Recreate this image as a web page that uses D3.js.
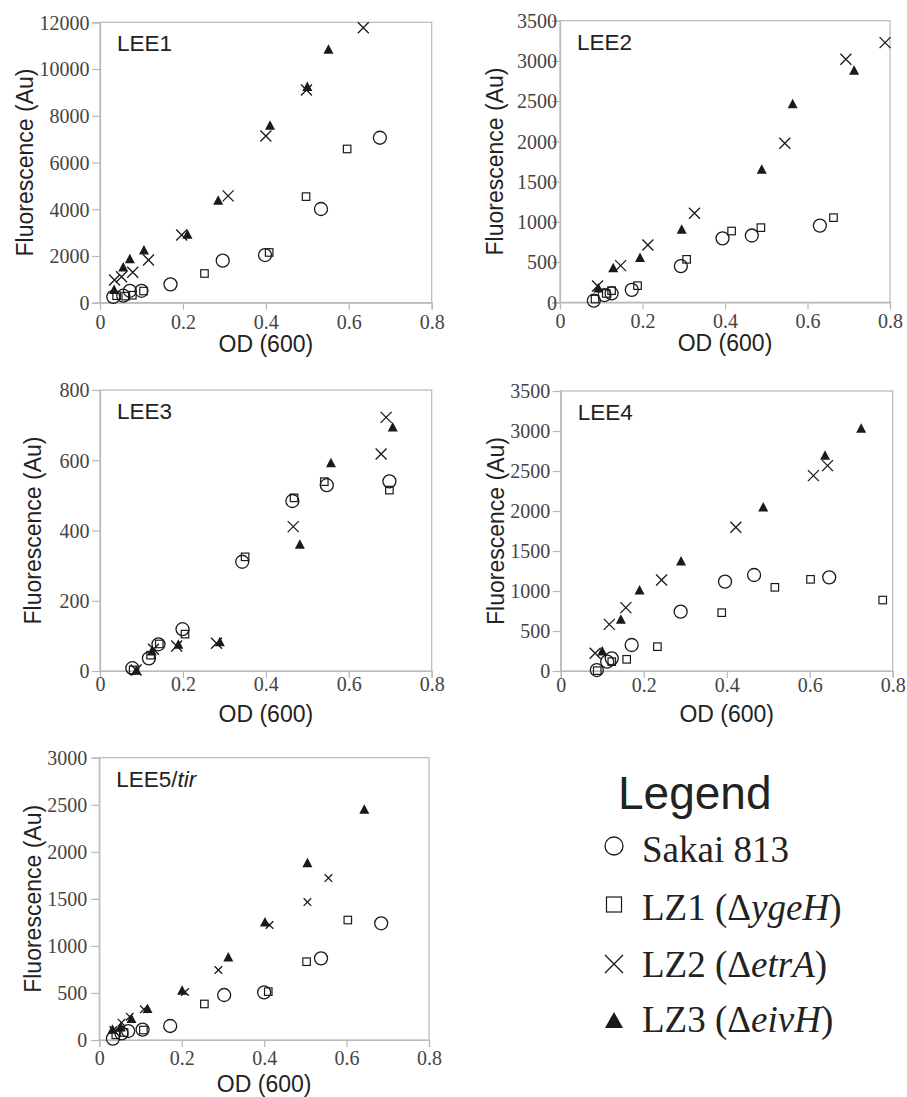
<!DOCTYPE html>
<html><head><meta charset="utf-8">
<script src="https://cdn.jsdelivr.net/npm/d3@7"></script>
<style>body{margin:0;background:#fff}svg{display:block}</style>
</head><body><svg id="c" width="907" height="1097"></svg>
<script>
// ---- data ----
const xTicks = [0, 0.2, 0.4, 0.6, 0.8];
const yTicksLEE1 = [0, 2000, 4000, 6000, 8000, 10000, 12000];
const yTicksLEE2 = [0, 500, 1000, 1500, 2000, 2500, 3000, 3500];
const yTicksLEE3 = [0, 200, 400, 600, 800];
const yTicksLEE4 = [0, 500, 1000, 1500, 2000, 2500, 3000, 3500];
const yTicksLEE5 = [0, 500, 1000, 1500, 2000, 2500, 3000];

const lee1Sakai = [[0.032,250],[0.056,300],[0.072,510],[0.10,510],[0.17,785],[0.296,1800],[0.398,2040],[0.533,4010],[0.675,7060]];
const lee1LZ1 = [[0.040,300],[0.062,280],[0.078,320],[0.105,500],[0.252,1250],[0.408,2150],[0.497,4540],[0.596,6580]];
const lee1LZ2 = [[0.035,970],[0.052,1110],[0.079,1300],[0.117,1830],[0.197,2900],[0.309,4570],[0.40,7135],[0.498,9100],[0.635,11770]];
const lee1LZ3 = [[0.034,540],[0.056,1500],[0.072,1855],[0.106,2230],[0.211,2900],[0.285,4350],[0.41,7560],[0.50,9220],[0.551,10820]];

const lee2Sakai = [[0.082,20],[0.108,90],[0.125,110],[0.174,155],[0.293,450],[0.394,795],[0.465,830],[0.63,953]];
const lee2LZ1 = [[0.085,40],[0.112,110],[0.125,145],[0.188,207],[0.307,534],[0.416,886],[0.487,928],[0.663,1052]];
const lee2LZ2 = [[0.091,203],[0.147,456],[0.213,712],[0.326,1106],[0.545,1976],[0.693,3020],[0.788,3227]];
const lee2LZ3 = [[0.093,170],[0.129,422],[0.194,547],[0.295,899],[0.489,1644],[0.564,2460],[0.713,2875]];

const lee3Sakai = [[0.078,8],[0.118,36],[0.141,76],[0.199,119],[0.343,311],[0.464,484],[0.547,529],[0.698,540]];
const lee3LZ1 = [[0.080,3],[0.122,45],[0.143,77],[0.205,105],[0.35,325],[0.468,493],[0.541,539],[0.698,515]];
const lee3LZ2 = [[0.087,3],[0.129,62],[0.185,71],[0.281,79],[0.466,411],[0.678,618],[0.69,722]];
const lee3LZ3 = [[0.088,0],[0.125,55],[0.189,74],[0.289,81],[0.482,359],[0.557,591],[0.706,693]];

const lee4Sakai = [[0.087,12],[0.112,117],[0.123,158],[0.171,325],[0.289,742],[0.396,1117],[0.466,1200],[0.647,1171]];
const lee4LZ1 = [[0.088,4],[0.123,117],[0.159,146],[0.233,304],[0.388,729],[0.516,1046],[0.602,1146],[0.776,887]];
const lee4LZ2 = [[0.083,221],[0.117,583],[0.157,792],[0.243,1137],[0.422,1796],[0.609,2442],[0.643,2567]];
const lee4LZ3 = [[0.10,242],[0.145,637],[0.19,1004],[0.29,1367],[0.488,2042],[0.637,2687],[0.724,3025]];

const lee5Sakai = [[0.033,15],[0.054,70],[0.07,95],[0.105,110],[0.172,149],[0.303,478],[0.40,506],[0.538,868],[0.684,1240]];
const lee5LZ1 = [[0.040,55],[0.060,80],[0.107,106],[0.255,383],[0.41,514],[0.503,832],[0.603,1275]];
const lee5LZ2 = [[0.034,106],[0.054,184],[0.074,248],[0.108,326],[0.208,510],[0.289,744],[0.413,1222],[0.505,1466],[0.556,1721]];
const lee5LZ3 = [[0.032,106],[0.052,131],[0.078,220],[0.117,326],[0.201,521],[0.313,875],[0.402,1247],[0.505,1877],[0.643,2444]];

const legendLabels = [
  [["Sakai 813", false]],
  [["LZ1 (\u0394", false], ["ygeH", true], [")", false]],
  [["LZ2 (\u0394", false], ["etrA", true], [")", false]],
  [["LZ3 (\u0394", false], ["eivH", true], [")", false]]
];

// ---- layout ----
const panels = [
  {title:[["LEE1",false]], yTicks:yTicksLEE1, series:[lee1Sakai,lee1LZ1,lee1LZ2,lee1LZ3], l:100, r:431.7, t:22.3, b:302.7, tickGap:10.5, yTitleX:32.5, xLabDy:26, xTitleDy:49, crossR:5.5},
  {title:[["LEE2",false]], yTicks:yTicksLEE2, series:[lee2Sakai,lee2LZ1,lee2LZ2,lee2LZ3], l:560, r:890, t:20.7, b:302.3, tickGap:3, yTitleX:503, xLabDy:26, xTitleDy:49, crossR:5.5},
  {title:[["LEE3",false]], yTicks:yTicksLEE3, series:[lee3Sakai,lee3LZ1,lee3LZ2,lee3LZ3], l:100, r:431.7, t:390, b:671, tickGap:10.5, yTitleX:41, xLabDy:20, xTitleDy:51, crossR:5.5},
  {title:[["LEE4",false]], yTicks:yTicksLEE4, series:[lee4Sakai,lee4LZ1,lee4LZ2,lee4LZ3], l:560.7, r:892.7, t:391, b:671, tickGap:10.5, yTitleX:503.5, xLabDy:21, xTitleDy:51, crossR:5.5},
  {title:[["LEE5/",false],["tir",true]], yTicks:yTicksLEE5, series:[lee5Sakai,lee5LZ1,lee5LZ2,lee5LZ3], l:99.3, r:429, t:757.7, b:1040, tickGap:12, yTitleX:41, xLabDy:25, xTitleDy:52, crossR:3.8}
];

const svg = d3.select("#c");
const INK = "#1a1a1a";
const FRAME = "#b8b8b8";
const SERIF = "'Liberation Serif','Times New Roman',serif";
const SANS = "'Liberation Sans',Arial,sans-serif";

function drawMarker(g, type, cx, cy, s) {
  if (type === 0) {
    g.append("circle").attr("cx", cx).attr("cy", cy).attr("r", s.cr)
      .attr("fill", "none").attr("stroke", INK).attr("stroke-width", 1.3);
  } else if (type === 1) {
    g.append("rect").attr("x", cx - s.sq/2).attr("y", cy - s.sq/2).attr("width", s.sq).attr("height", s.sq)
      .attr("fill", "none").attr("stroke", INK).attr("stroke-width", 1.2);
  } else if (type === 2) {
    const p = d3.path();
    p.moveTo(cx - s.xr, cy - s.xr); p.lineTo(cx + s.xr, cy + s.xr);
    p.moveTo(cx - s.xr, cy + s.xr); p.lineTo(cx + s.xr, cy - s.xr);
    g.append("path").attr("d", p.toString()).attr("stroke", INK).attr("stroke-width", 1.3).attr("fill", "none");
  } else {
    const p = d3.path();
    p.moveTo(cx, cy - s.th*0.6); p.lineTo(cx + s.tw/2, cy + s.th*0.4); p.lineTo(cx - s.tw/2, cy + s.th*0.4); p.closePath();
    g.append("path").attr("d", p.toString()).attr("fill", INK);
  }
}

function richText(sel, parts) {
  parts.forEach(([txt, it]) => sel.append("tspan").text(txt).style("font-style", it ? "italic" : "normal"));
}

panels.forEach(P => {
  const x = d3.scaleLinear().domain([0, 0.8]).range([P.l, P.r]);
  const yMax = P.yTicks[P.yTicks.length - 1];
  const y = d3.scaleLinear().domain([0, yMax]).range([P.b, P.t]);
  const g = svg.append("g");

  g.append("rect").attr("x", P.l).attr("y", P.t).attr("width", P.r - P.l).attr("height", P.b - P.t)
    .attr("fill", "none").attr("stroke", FRAME).attr("stroke-width", 1.2);

  const xa = g.append("g").attr("transform", `translate(0,${P.b})`)
    .call(d3.axisBottom(x).tickValues(xTicks).tickSize(7).tickPadding(0).tickFormat(d => d === 0 ? "0" : d3.format(".1f")(d)));
  xa.attr("font-family", null).attr("font-size", null);
  xa.select(".domain").attr("stroke", FRAME).attr("stroke-width", 1.2);
  xa.selectAll(".tick line").attr("stroke", FRAME).attr("stroke-width", 1.2);
  xa.selectAll(".tick text").attr("dy", null).attr("y", P.xLabDy)
    .style("font-family", SERIF).style("font-size", "20px").attr("fill", "#444");

  const ya = g.append("g").attr("transform", `translate(${P.l},0)`)
    .call(d3.axisLeft(y).tickValues(P.yTicks).tickSize(8).tickPadding(0).tickFormat(d3.format("d")));
  ya.attr("font-family", null).attr("font-size", null);
  ya.select(".domain").attr("stroke", FRAME).attr("stroke-width", 1.2);
  ya.selectAll(".tick line").attr("stroke", FRAME).attr("stroke-width", 1.2);
  ya.selectAll(".tick text").attr("x", -P.tickGap).attr("dy", "0.34em")
    .style("font-family", SERIF).style("font-size", "20px").attr("fill", "#444");

  g.append("text").attr("x", (P.l + P.r) / 2).attr("y", P.b + P.xTitleDy).attr("text-anchor", "middle")
    .style("font-family", SANS).style("font-size", "23px").attr("fill", "#222").text("OD (600)");
  g.append("text").attr("transform", `translate(${P.yTitleX},${(P.t + P.b) / 2}) rotate(-90)`).attr("text-anchor", "middle")
    .style("font-family", SANS).style("font-size", "23px").attr("fill", "#222").text("Fluorescence (Au)");

  const tt = g.append("text").attr("x", P.l + 17).attr("y", P.t + 29)
    .style("font-family", SANS).style("font-size", "22.5px").attr("fill", "#222");
  richText(tt, P.title);

  const sz = {cr: 6.5, sq: 7.5, xr: P.crossR, tw: 10, th: 9.5};
  P.series.forEach((ser, si) => {
    ser.forEach(d => drawMarker(g, si, x(d[0]), y(d[1]), sz));
  });
});

// legend
const lg = svg.append("g");
lg.append("text").attr("x", 618).attr("y", 809).style("font-family", SANS)
  .style("font-size", "46px").attr("fill", "#222").text("Legend");
const legendY = [862, 920, 977, 1032];
const lsz = {cr: 9, sq: 15, xr: 9, tw: 18, th: 16};
const markerY = [846, 904.5, 964, 1021.5];
legendLabels.forEach((parts, i) => {
  drawMarker(lg, i, 614, markerY[i], lsz);
  const t = lg.append("text").attr("x", 642).attr("y", legendY[i])
    .style("font-family", SERIF).style("font-size", "37px").attr("fill", "#222");
  richText(t, parts);
});
</script></body></html>
